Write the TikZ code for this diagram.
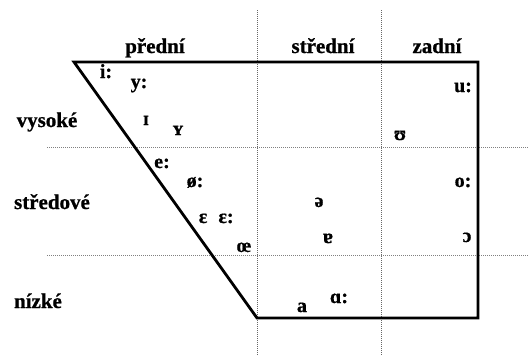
\documentclass[tikz,border=0pt]{standalone}
\usepackage{fontspec}
\setmainfont{Liberation Serif}[BoldFont={Liberation Serif Bold},BoldFeatures={FakeBold=0.8}]
\begin{document}
\begin{tikzpicture}[x=1pt,y=-1pt,
  lbl/.style={font=\bfseries\fontsize{21}{21}\selectfont, anchor=base, inner sep=0pt},
  vow/.style={font=\bfseries\fontsize{20}{20}\selectfont, anchor=base, inner sep=0pt},
  grid/.style={gray!80!black, line width=0.6pt, dash pattern=on 1pt off 1pt},
  frame/.style={black, line width=2.8pt, line join=miter}]
\useasboundingbox (0,0) rectangle (529,356);
% dotted grid
\coordinate (v1t) at (257,10); \coordinate (v1b) at (257,356);
\coordinate (v2t) at (381,10); \coordinate (v2b) at (381,356);
\coordinate (h1l) at (47,147); \coordinate (h1r) at (529,147);
\coordinate (h2l) at (47,255); \coordinate (h2r) at (529,255);
\draw[grid] (v1t) -- (v1b);
\draw[grid] (v2t) -- (v2b);
\draw[grid, gray] (h1l) -- (h1r);
\draw[grid, gray] (h2l) -- (h2r);
% frame
\coordinate (tl) at (74,62); \coordinate (tr) at (478,62);
\coordinate (br) at (478,318); \coordinate (bl) at (257,318);
\draw[frame] (tl) -- (tr) -- (br) -- (bl) -- cycle;
% column labels
\node[lbl] (pred) at (155,53) {přední};
\node[lbl] (stred) at (323,53) {střední};
\node[lbl] (zad) at (437,53) {zadní};
% row labels
\node[lbl] (vys) at (47,127) {vysoké};
\node[lbl] (sto) at (52,209) {středové};
\node[lbl] (niz) at (38,308) {nízké};
% vowels
\node[vow] (ii) at (106,78) {i:};
\node[vow] (yy) at (139,88) {y:};
\node[vow] (ic) at (146,125) {ɪ};
\node[vow] (yc) at (178,135) {ʏ};
\node[vow] (ee) at (162,168) {e:};
\node[vow] (oe) at (195,187) {ø:};
\node[vow] (eps) at (203,223) {ɛ};
\node[vow] (epsl) at (226,223) {ɛ:};
\node[vow] (oel) at (244,252) {œ};
\node[vow] (sch) at (319,207) {ə};
\node[vow] (tura) at (328,243) {ɐ};
\node[vow] (ups) at (400,140) {ʊ};
\node[vow] (uu) at (463,92) {u:};
\node[vow] (oo) at (463,187) {o:};
\node[vow] (oop) at (467,242) {ɔ};
\node[vow] (aa) at (302,312) {a};
\node[vow] (alph) at (339,303) {ɑ:};
\end{tikzpicture}
\end{document}
